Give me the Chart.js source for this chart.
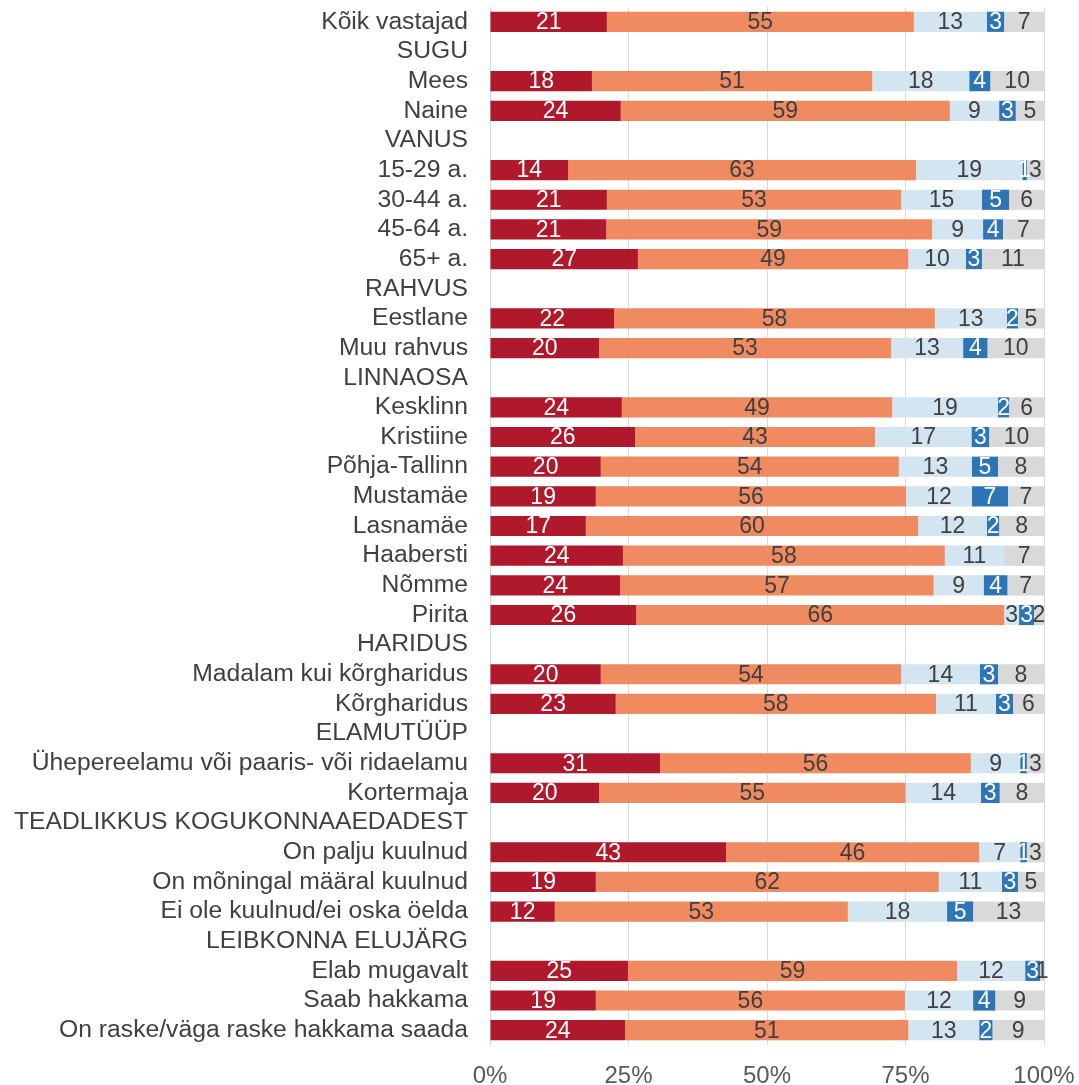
<!DOCTYPE html>
<html lang="et">
<head>
  <meta charset="UTF-8">
  <title>Kogukonnaaiad</title>
  <script src="https://cdn.jsdelivr.net/npm/chart.js"></script>
  <style>
    body {
      margin: 0;
      padding: 0;
      background: #fff;
    }
    #wrap {
      width: 1079px;
      height: 1085px;
    }
  </style>
</head>
<body>
  <div id="wrap">
    <canvas id="bars"></canvas>
  </div>

  <script>
    const categories = [
      'Kõik vastajad', 'SUGU', 'Mees', 'Naine',
      'VANUS', '15-29 a.', '30-44 a.', '45-64 a.', '65+ a.',
      'RAHVUS', 'Eestlane', 'Muu rahvus',
      'LINNAOSA', 'Kesklinn', 'Kristiine', 'Põhja-Tallinn', 'Mustamäe', 'Lasnamäe', 'Haabersti', 'Nõmme', 'Pirita',
      'HARIDUS', 'Madalam kui kõrgharidus', 'Kõrgharidus',
      'ELAMUTÜÜP', 'Ühepereelamu või paaris- või ridaelamu', 'Kortermaja',
      'TEADLIKKUS KOGUKONNAAEDADEST', 'On palju kuulnud', 'On mõningal määral kuulnud', 'Ei ole kuulnud/ei oska öelda',
      'LEIBKONNA ELUJÄRG', 'Elab mugavalt', 'Saab hakkama', 'On raske/väga raske hakkama saada'
    ];

    // header rows have no bars (null)
    const seriesRed = [
      21.1, null, 18.4, 23.6,
      null, 14.1, 21.1, 21.0, 26.7,
      null, 22.4, 19.7,
      null, 23.8, 26.2, 20.0, 19.1, 17.3, 24.0, 23.5, 26.4,
      null, 20.0, 22.7,
      null, 30.7, 19.7,
      null, 42.6, 19.1, 11.7,
      null, 24.9, 19.1, 24.4
    ];
    const seriesSalmon = [
      55.4, null, 50.6, 59.4,
      null, 62.8, 53.1, 58.8, 48.8,
      null, 57.9, 52.7,
      null, 48.8, 43.3, 53.8, 56.0, 60.0, 58.1, 56.6, 66.4,
      null, 54.2, 57.8,
      null, 56.1, 55.3,
      null, 45.7, 61.9, 52.9,
      null, 59.4, 55.8, 51.1
    ];
    const seriesLightBlue = [
      13.2, null, 17.5, 8.9,
      null, 19.2, 14.6, 9.2, 10.4,
      null, 13.0, 13.0,
      null, 19.1, 17.4, 13.2, 11.9, 12.4, 10.7, 9.0, 2.7,
      null, 14.2, 10.8,
      null, 8.9, 13.6,
      null, 7.4, 11.4, 17.9,
      null, 12.3, 12.3, 12.8
    ];
    const seriesBlue = [
      3.1, null, 3.8, 3.0,
      null, 0.8, 4.9, 3.6, 2.9,
      null, 2.0, 4.4,
      null, 2.0, 3.2, 4.7, 6.5, 2.2, 0, 4.3, 2.7,
      null, 3.3, 3.1,
      null, 1.2, 3.4,
      null, 1.2, 2.9, 4.7,
      null, 2.7, 4.0, 2.4
    ];
    const seriesGray = [
      7.2, null, 9.7, 5.1,
      null, 3.1, 6.3, 7.4, 11.2,
      null, 4.7, 10.2,
      null, 6.3, 9.9, 8.3, 6.5, 8.1, 7.2, 6.6, 1.8,
      null, 8.3, 5.6,
      null, 3.1, 8.0,
      null, 3.1, 4.7, 12.8,
      null, 0.7, 8.8, 9.3
    ];
    const xTicks = [0, 25, 50, 75, 100];

    const FONT = '"Liberation Sans", Arial, sans-serif';
    const TEXT = '#404040';

    // draws the rounded value in the middle of each segment
    const segmentLabels = {
      id: 'segmentLabels',
      afterDatasetsDraw(chart) {
        const c = chart.ctx;
        c.save();
        c.font = '23px ' + FONT;
        c.textAlign = 'center';
        c.textBaseline = 'middle';
        chart.data.datasets.forEach((ds, i) => {
          const meta = chart.getDatasetMeta(i);
          meta.data.forEach((bar, j) => {
            const v = ds.data[j];
            if (v == null || Math.round(v) === 0) return;
            const left = Math.min(bar.x, bar.base);
            const right = Math.max(bar.x, bar.base);
            c.fillStyle = ds.labelColor;
            c.fillText(String(Math.round(v)), (left + right) / 2, bar.y + 1);
          });
        });
        c.restore();
      }
    };

    const ctx = document.getElementById('bars').getContext('2d');
    new Chart(ctx, {
      type: 'bar',
      data: {
        labels: categories,
        datasets: [
          { data: seriesRed, backgroundColor: '#b0192c', labelColor: '#ffffff' },
          { data: seriesSalmon, backgroundColor: '#f08a60', labelColor: TEXT },
          { data: seriesLightBlue, backgroundColor: '#d2e5f0', labelColor: TEXT },
          { data: seriesBlue, backgroundColor: '#2e75b6', labelColor: '#ffffff' },
          { data: seriesGray, backgroundColor: '#d9d9d9', labelColor: TEXT }
        ]
      },
      options: {
        indexAxis: 'y',
        responsive: true,
        maintainAspectRatio: false,
        animation: false,
        datasets: {
          bar: {
            barPercentage: 0.68,
            categoryPercentage: 1,
            borderWidth: 0
          }
        },
        layout: {
          padding: { top: 7, right: 35, bottom: 0, left: 0 }
        },
        plugins: {
          legend: { display: false },
          tooltip: { enabled: false }
        },
        scales: {
          x: {
            stacked: true,
            min: 0,
            max: 100,
            afterBuildTicks(scale) {
              scale.ticks = xTicks.map(v => ({ value: v }));
            },
            afterFit(scale) {
              scale.height = 40;
              scale.paddingLeft = 0;
              scale.paddingRight = 0;
            },
            grid: {
              color: '#d9d9d9',
              lineWidth: 1,
              drawTicks: false
            },
            border: { display: false },
            ticks: {
              padding: 17,
              color: '#595959',
              font: { family: FONT, size: 24 },
              callback: v => v + '%'
            }
          },
          y: {
            stacked: true,
            afterFit(scale) {
              scale.width = 490;
              scale.paddingTop = 0;
              scale.paddingBottom = 0;
            },
            grid: { display: false, drawTicks: false },
            border: { display: false },
            ticks: {
              padding: 22,
              autoSkip: false,
              color: TEXT,
              font: { family: FONT, size: 24.7 }
            }
          }
        }
      },
      plugins: [segmentLabels]
    });
  </script>
</body>
</html>
